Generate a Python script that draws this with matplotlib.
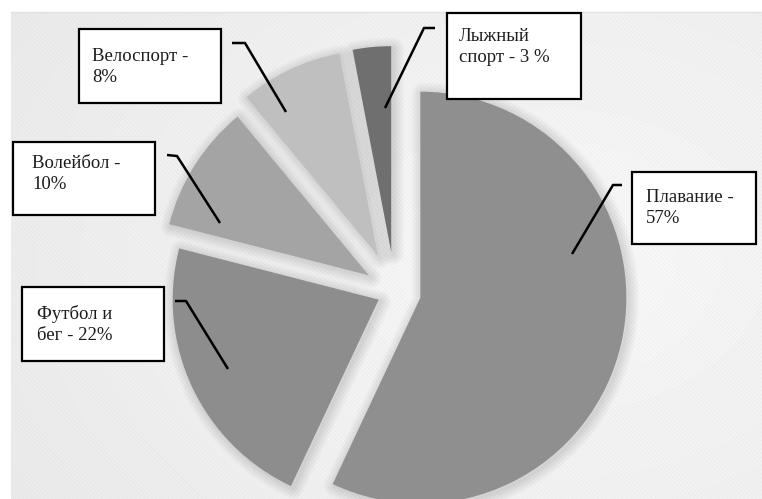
import numpy as np
import matplotlib.pyplot as plt
from matplotlib.patches import Rectangle, Wedge

W, H = 762, 499

sports = ["Плавание", "Футбол и бег", "Волейбол", "Велоспорт", "Лыжный спорт"]
shares = [57, 22, 10, 8, 3]
label_fmt = ["Плавание -\n{}%", "Футбол и\nбег - {}%", "Волейбол -\n{}%",
             "Велоспорт -\n{}%", "Лыжный\nспорт - {} %"]
colors = ["#8f8f8f", "#8d8d8d", "#a4a4a4", "#bfbfbf", "#6f6f6f"]
explode = [26, 18, 31, 40, 40]   # pixels

# label boxes: left, top, right, bottom (pixels from top-left)
boxes = [(632, 172, 756, 244), (22, 287, 164, 361), (13, 142, 155, 215),
         (79, 29, 221, 103), (447, 13, 581, 99)]
text_pad = [(14, 17), (15, 18), (19, 13), (13, 19), (12, 15)]
# leader lines: start, bend, end
leaders = [((622, 185), (613, 185), (572, 254)),
           ((175, 301), (186, 301), (228, 369)),
           ((167, 155), (177, 156), (220, 223)),
           ((232, 43), (245, 43), (286, 112)),
           ((435, 28), (424, 28), (385, 108))]


def Y(y):
    return H - y


plt.rcParams['hatch.linewidth'] = 0.4
fig = plt.figure(figsize=(W / 100, H / 100), dpi=100)
ax = fig.add_axes([0, 0, 1, 1])

# soft grey backdrop, a bit lighter to the right
yy, xx = np.mgrid[0:H, 0:W]
d = np.hypot((xx - 560) / 520.0, (yy - 260) / 380.0)
img = 0.975 - 0.045 * np.clip(d, 0, 1.2)
ax.imshow(img, cmap='gray', vmin=0, vmax=1, extent=(0, W, 0, H),
          origin='upper', zorder=0, interpolation='bilinear')
ax.add_patch(Rectangle((11, 0), W - 11, H - 12, facecolor='none',
                       hatch='\\\\\\\\\\\\\\\\', edgecolor=(0.8, 0.8, 0.8, 0.25),
                       lw=0, zorder=1))
ax.add_patch(Rectangle((0, H - 12), W, 12, facecolor='white', lw=0, zorder=1))
ax.add_patch(Rectangle((0, 0), 11, H, facecolor='white', lw=0, zorder=1))
ax.plot([11, W], [H - 12, H - 12], color='#e2e2e2', lw=1, zorder=1)

wedges, _ = ax.pie(shares, explode=explode, colors=colors, startangle=90,
                   counterclock=False, center=(395, Y(292)), radius=206,
                   frame=True, wedgeprops=dict(linewidth=0))
for w in wedges:
    w.set_zorder(3)
    # blurred shadow built from widening translucent outlines
    for k in range(8):
        ax.add_patch(Wedge((w.center[0] + 2, w.center[1] - 2), w.r,
                           w.theta1, w.theta2, facecolor='none',
                           edgecolor='black', lw=1.5 + 2.0 * k, alpha=0.016,
                           joinstyle='round', zorder=2))

for (s, b, e) in leaders:
    ax.plot([s[0], b[0], e[0]], [Y(s[1]), Y(b[1]), Y(e[1])],
            color='black', lw=1.8, zorder=5, solid_capstyle='butt')

for fmt, v, (l, t, r, btm), (px, py) in zip(label_fmt, shares, boxes, text_pad):
    ax.add_patch(Rectangle((l, Y(btm)), r - l, btm - t, facecolor='white',
                           edgecolor='black', lw=1.6, zorder=6))
    ax.text(l + px, Y(t + py), fmt.format(v), ha='left', va='top',
            fontsize=13.5, family='Liberation Serif', color='#1c1c1c',
            linespacing=1.3, zorder=7)

ax.set_xlim(0, W)
ax.set_ylim(0, H)
ax.set_aspect('auto')
ax.axis('off')
fig.savefig('out.png', dpi=100)
